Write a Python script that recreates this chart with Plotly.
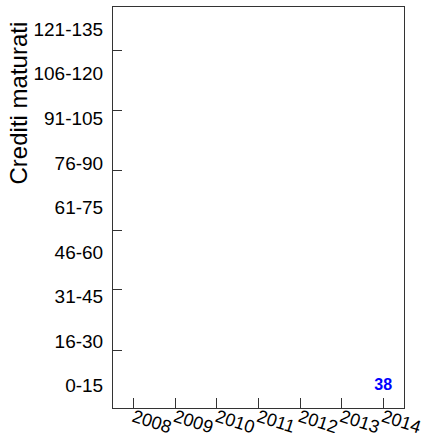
import plotly.graph_objects as go

years = ["2008", "2009", "2010", "2011", "2012", "2013", "2014"]
credit_ranges = ["0-15", "16-30", "31-45", "46-60", "61-75", "76-90",
                 "91-105", "106-120", "121-135"]
cell_years = ["2014"]
cell_ranges = ["0-15"]
cell_counts = [38]

font_family = "Liberation Sans, Arial, sans-serif"

xi = [years.index(y) for y in cell_years]
yi = [credit_ranges.index(r) for r in cell_ranges]

n_y = len(credit_ranges)
tick_marks = [0.80, 2.15, 3.49, 4.84, 6.17, 7.53]

fig = go.Figure()
fig.add_trace(go.Scatter(
    x=xi, y=yi, mode="text",
    text=[str(c) for c in cell_counts],
    textfont=dict(family=font_family, size=16, color="#0000ff", weight="bold"),
    textposition="middle center",
    hoverinfo="skip", showlegend=False,
))
# invisible trace on second y axis so its tick marks are drawn
fig.add_trace(go.Scatter(x=[0], y=[0], yaxis="y2", mode="markers",
                         marker=dict(opacity=0), hoverinfo="skip", showlegend=False))

fig.update_layout(
    width=425, height=433,
    margin=dict(l=113, r=21, t=7, b=25, autoexpand=False),
    paper_bgcolor="white", plot_bgcolor="white",
    font=dict(family=font_family, color="black"),
    xaxis=dict(
        range=[-0.5, len(years) - 0.5], automargin=False,
        tickmode="array", tickvals=list(range(len(years))), ticktext=years,
        ticks="inside", ticklen=10, tickcolor="#333", tickwidth=1,
        tickangle=18, tickfont=dict(size=18), ticklabelstandoff=-9,
        showgrid=False, zeroline=False,
        showline=True, mirror=True, linecolor="#333", linewidth=1,
    ),
    yaxis=dict(
        range=[-0.5, n_y - 0.5], automargin=False,
        tickmode="array", tickvals=list(range(n_y)), ticktext=credit_ranges,
        ticks="", ticklen=0, tickfont=dict(size=19), ticklabelstandoff=5,
        showgrid=False, zeroline=False,
        showline=True, mirror=True, linecolor="#333", linewidth=1,
    ),
    yaxis2=dict(
        overlaying="y", side="left", range=[-0.5, n_y - 0.5], automargin=False,
        tickmode="array", tickvals=tick_marks, showticklabels=False,
        ticks="inside", ticklen=9, tickcolor="#333", tickwidth=1,
        showgrid=False, zeroline=False, showline=False,
    ),
    annotations=[dict(
        text="Crediti maturati", textangle=-90,
        xref="paper", yref="paper", x=-0.326, y=0.968,
        xanchor="center", yanchor="top", showarrow=False,
        font=dict(size=24, family=font_family, color="black"),
    )],
)

fig.write_html("out.html", config={"displayModeBar": False},
               post_script="document.body.style.margin='0';")
